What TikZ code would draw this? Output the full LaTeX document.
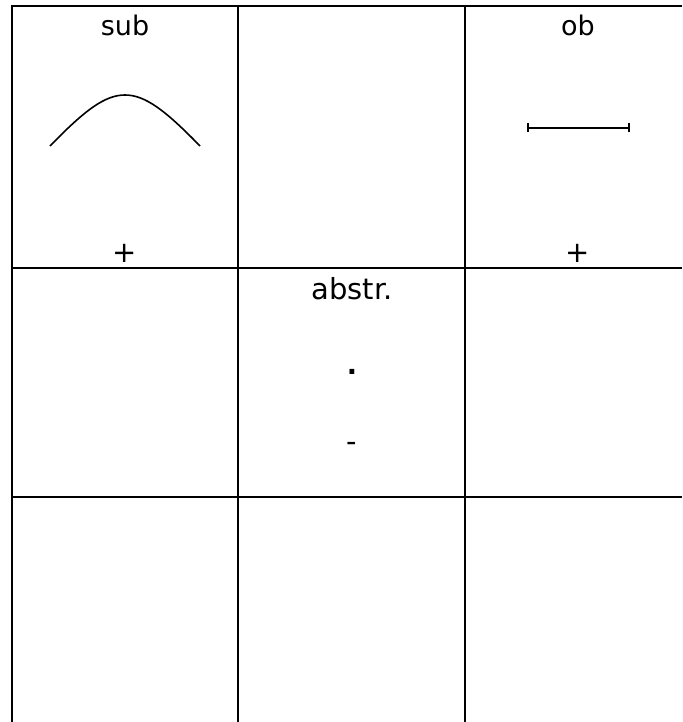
\documentclass[tikz,border=0pt]{standalone}
\usepackage{fontspec}
\setmainfont{DejaVu Sans}
\begin{document}
\begin{tikzpicture}[x=1pt,y=-1pt,
  grid/.style={line width=2.6pt},
  lbl/.style={font=\fontsize{27}{30}\selectfont, inner sep=0pt, anchor=base},
  big/.style={font=\fontsize{29}{32}\selectfont, inner sep=0pt, anchor=base},
  glyph/.style={font=\fontsize{29}{32}\selectfont, inner sep=0pt, anchor=center},
  boldglyph/.style={font=\fontsize{27}{30}\selectfont\bfseries, inner sep=0pt, anchor=center},
  sym/.style={line width=1.6pt}]
\useasboundingbox (0,0) rectangle (682,722);
% grid
\draw[grid] (12,722) -- (12,6) -- (682,6);
\draw[grid] (238,6) -- (238,722);
\draw[grid] (465,6) -- (465,722);
\draw[grid] (12,268) -- (682,268);
\draw[grid] (12,497) -- (682,497);
% top-left cell
\node[lbl] (sub) at (125,36) {sub};
\coordinate (c1) at (50,146);
\coordinate (c2) at (125,95);
\coordinate (c3) at (200,146);
\draw[sym] (c1) .. controls (85,110) and (105,95) .. (c2)
               .. controls (145,95) and (165,110) .. (c3);
\node[glyph] (p1) at (125,253) {+};
% top-right cell
\node[lbl] (ob) at (578,36) {ob};
\coordinate (i1) at (528,128);
\coordinate (i2) at (629,128);
\draw[sym] (i1) -- (i2);
\draw[sym] ([yshift=-4.5pt]i1) -- ([yshift=4.5pt]i1);
\draw[sym] ([yshift=-4.5pt]i2) -- ([yshift=4.5pt]i2);
\node[glyph] (p2) at (578,253) {+};
% middle cell
\node[big] (abs) at (352,299) {abstr.};
\node[boldglyph] (dot) at (352,372) {.};
\node[glyph] (dash) at (352,447) {-};
\end{tikzpicture}
\end{document}
